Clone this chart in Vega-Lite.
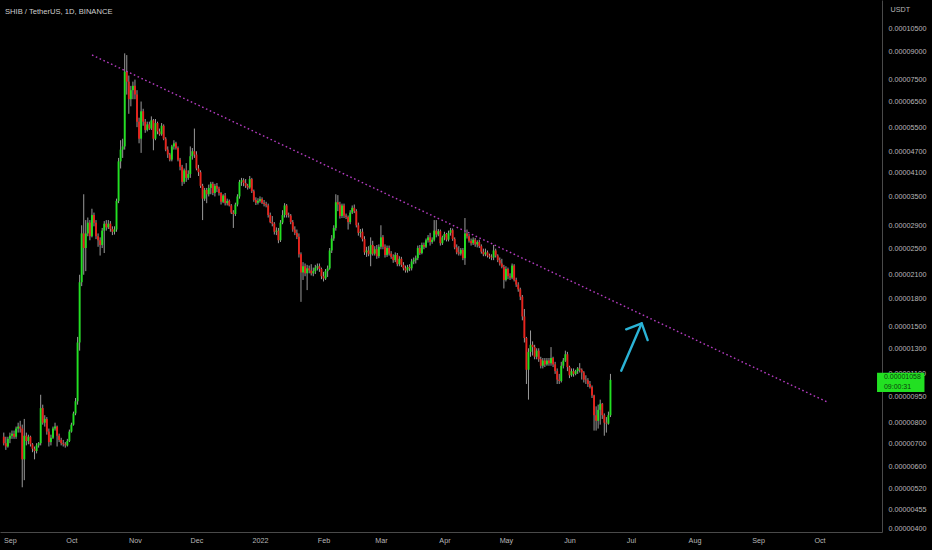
{
  "$schema": "https://vega.github.io/schema/vega-lite/v6.json",
  "description": "SHIB / TetherUS daily candles on a log price scale, with a descending dotted trendline and an up arrow.",
  "width": 882,
  "height": 532,
  "autosize": "none",
  "padding": {"left": 0, "top": 0, "right": 50, "bottom": 18},
  "background": "#000000",
  "title": {
    "text": "SHIB / TetherUS, 1D, BINANCE",
    "anchor": "start",
    "frame": "group",
    "offset": -24,
    "dx": 5,
    "baseline": "bottom",
    "font": "Liberation Sans",
    "fontSize": 7.6,
    "fontWeight": "normal",
    "color": "#cfcfcf"
  },
  "datasets": {
    "candles": [
      {"t":"2021-08-29","o":7.3,"h":7.5,"l":6.9,"c":7.0},
      {"t":"2021-08-30","o":7.0,"h":7.3,"l":6.7,"c":6.85},
      {"t":"2021-08-31","o":6.85,"h":7.3,"l":6.8,"c":7.2},
      {"t":"2021-09-01","o":7.2,"h":7.5,"l":7.0,"c":7.35},
      {"t":"2021-09-02","o":7.35,"h":7.6,"l":7.2,"c":7.45},
      {"t":"2021-09-03","o":7.45,"h":7.6,"l":7.2,"c":7.3},
      {"t":"2021-09-04","o":7.3,"h":7.8,"l":7.2,"c":7.7},
      {"t":"2021-09-05","o":7.7,"h":8.0,"l":7.5,"c":7.8},
      {"t":"2021-09-06","o":7.8,"h":8.1,"l":7.5,"c":7.7},
      {"t":"2021-09-07","o":7.7,"h":7.9,"l":5.25,"c":6.3},
      {"t":"2021-09-08","o":6.3,"h":8.2,"l":5.5,"c":7.35},
      {"t":"2021-09-09","o":7.35,"h":7.5,"l":6.9,"c":7.1},
      {"t":"2021-09-10","o":7.1,"h":7.4,"l":6.95,"c":7.3},
      {"t":"2021-09-11","o":7.3,"h":7.35,"l":6.85,"c":6.95},
      {"t":"2021-09-12","o":6.95,"h":7.0,"l":6.6,"c":6.75},
      {"t":"2021-09-13","o":6.75,"h":6.85,"l":6.3,"c":6.65},
      {"t":"2021-09-14","o":6.65,"h":7.0,"l":6.55,"c":6.9},
      {"t":"2021-09-15","o":6.9,"h":7.05,"l":6.8,"c":7.0},
      {"t":"2021-09-16","o":7.0,"h":9.6,"l":6.9,"c":8.8},
      {"t":"2021-09-17","o":8.8,"h":9.0,"l":7.9,"c":8.0},
      {"t":"2021-09-18","o":8.0,"h":8.4,"l":7.8,"c":8.2},
      {"t":"2021-09-19","o":8.2,"h":8.3,"l":7.4,"c":7.55},
      {"t":"2021-09-20","o":7.55,"h":7.7,"l":6.85,"c":7.05},
      {"t":"2021-09-21","o":7.05,"h":7.4,"l":6.9,"c":7.25},
      {"t":"2021-09-22","o":7.25,"h":7.8,"l":7.2,"c":7.7},
      {"t":"2021-09-23","o":7.7,"h":8.0,"l":7.6,"c":7.8},
      {"t":"2021-09-24","o":7.8,"h":7.85,"l":6.85,"c":7.35},
      {"t":"2021-09-25","o":7.35,"h":7.45,"l":7.05,"c":7.15},
      {"t":"2021-09-26","o":7.15,"h":7.25,"l":6.9,"c":7.0},
      {"t":"2021-09-27","o":7.0,"h":7.15,"l":6.85,"c":6.95},
      {"t":"2021-09-28","o":6.95,"h":7.05,"l":6.8,"c":6.9},
      {"t":"2021-09-29","o":6.9,"h":7.2,"l":6.85,"c":7.1},
      {"t":"2021-09-30","o":7.1,"h":7.65,"l":7.05,"c":7.55},
      {"t":"2021-10-01","o":7.55,"h":8.0,"l":7.5,"c":7.9},
      {"t":"2021-10-02","o":7.9,"h":8.6,"l":7.85,"c":8.5},
      {"t":"2021-10-03","o":8.5,"h":9.4,"l":8.4,"c":9.2},
      {"t":"2021-10-04","o":9.2,"h":14.0,"l":9.0,"c":13.5},
      {"t":"2021-10-05","o":13.5,"h":21.0,"l":12.8,"c":20.0},
      {"t":"2021-10-06","o":20.0,"h":29.0,"l":19.5,"c":27.5},
      {"t":"2021-10-07","o":27.5,"h":35.5,"l":21.0,"c":25.0},
      {"t":"2021-10-08","o":25.0,"h":30.0,"l":21.5,"c":27.5},
      {"t":"2021-10-09","o":27.5,"h":30.5,"l":27.0,"c":29.5},
      {"t":"2021-10-10","o":29.5,"h":30.0,"l":26.3,"c":27.0},
      {"t":"2021-10-11","o":27.0,"h":32.3,"l":26.8,"c":31.0},
      {"t":"2021-10-12","o":31.0,"h":31.5,"l":28.8,"c":29.5},
      {"t":"2021-10-13","o":29.5,"h":30.0,"l":26.5,"c":27.0},
      {"t":"2021-10-14","o":27.0,"h":27.5,"l":25.2,"c":26.3},
      {"t":"2021-10-15","o":26.3,"h":26.8,"l":23.8,"c":25.5},
      {"t":"2021-10-16","o":25.5,"h":28.5,"l":25.0,"c":28.0},
      {"t":"2021-10-17","o":28.0,"h":29.8,"l":24.2,"c":29.3},
      {"t":"2021-10-18","o":29.3,"h":30.0,"l":28.0,"c":28.6},
      {"t":"2021-10-19","o":28.6,"h":30.0,"l":28.3,"c":29.3},
      {"t":"2021-10-20","o":29.3,"h":29.8,"l":27.8,"c":28.3},
      {"t":"2021-10-21","o":28.3,"h":28.8,"l":27.2,"c":27.8},
      {"t":"2021-10-22","o":27.8,"h":28.8,"l":27.3,"c":28.2},
      {"t":"2021-10-23","o":28.2,"h":34.5,"l":27.8,"c":34.0},
      {"t":"2021-10-24","o":34.0,"h":45.0,"l":33.5,"c":44.0},
      {"t":"2021-10-25","o":44.0,"h":50.5,"l":42.0,"c":47.5},
      {"t":"2021-10-26","o":47.5,"h":51.0,"l":45.0,"c":48.5},
      {"t":"2021-10-27","o":48.5,"h":89.0,"l":47.5,"c":79.0},
      {"t":"2021-10-28","o":79.0,"h":88.0,"l":68.0,"c":74.0},
      {"t":"2021-10-29","o":74.0,"h":77.0,"l":60.0,"c":66.0},
      {"t":"2021-10-30","o":66.0,"h":72.0,"l":63.0,"c":70.0},
      {"t":"2021-10-31","o":70.0,"h":74.0,"l":66.0,"c":72.0},
      {"t":"2021-11-01","o":72,"h":75,"l":66,"c":68},
      {"t":"2021-11-02","o":68,"h":70,"l":55,"c":57},
      {"t":"2021-11-03","o":57,"h":58.5,"l":49.5,"c":51},
      {"t":"2021-11-04","o":51,"h":65,"l":46.5,"c":61},
      {"t":"2021-11-05","o":61,"h":62,"l":55.5,"c":57},
      {"t":"2021-11-06","o":57,"h":58,"l":53,"c":54},
      {"t":"2021-11-07","o":54,"h":57,"l":53.5,"c":56},
      {"t":"2021-11-08","o":56,"h":57,"l":54,"c":54.5},
      {"t":"2021-11-09","o":54.5,"h":59,"l":54,"c":57.5},
      {"t":"2021-11-10","o":57.5,"h":58,"l":47.3,"c":51},
      {"t":"2021-11-11","o":51,"h":58,"l":50.5,"c":56.5},
      {"t":"2021-11-12","o":56.5,"h":57,"l":52.5,"c":53.5},
      {"t":"2021-11-13","o":53.5,"h":54.5,"l":52,"c":52.5},
      {"t":"2021-11-14","o":52.5,"h":56.5,"l":52,"c":55.5},
      {"t":"2021-11-15","o":55.5,"h":56,"l":50.5,"c":51},
      {"t":"2021-11-16","o":51,"h":51.5,"l":47,"c":47.5},
      {"t":"2021-11-17","o":47.5,"h":48.5,"l":45,"c":46},
      {"t":"2021-11-18","o":46,"h":46.5,"l":44,"c":44.5},
      {"t":"2021-11-19","o":44.5,"h":49,"l":44,"c":48.5},
      {"t":"2021-11-20","o":48.5,"h":50.5,"l":47.5,"c":49.5},
      {"t":"2021-11-21","o":49.5,"h":50,"l":47.5,"c":48},
      {"t":"2021-11-22","o":48,"h":48.5,"l":44,"c":44.5},
      {"t":"2021-11-23","o":44.5,"h":45,"l":41.5,"c":42.5},
      {"t":"2021-11-24","o":42.5,"h":43,"l":37.5,"c":38.5},
      {"t":"2021-11-25","o":38.5,"h":42,"l":38,"c":41.5},
      {"t":"2021-11-26","o":41.5,"h":43.5,"l":38.5,"c":39.5},
      {"t":"2021-11-27","o":39.5,"h":41.5,"l":39,"c":40.5},
      {"t":"2021-11-28","o":40.5,"h":48.5,"l":39.5,"c":45.5},
      {"t":"2021-11-29","o":45.5,"h":48,"l":44.5,"c":47},
      {"t":"2021-11-30","o":47,"h":54.5,"l":45,"c":46},
      {"t":"2021-12-01","o":46,"h":47,"l":41.5,"c":42},
      {"t":"2021-12-02","o":42,"h":43,"l":40,"c":41},
      {"t":"2021-12-03","o":41,"h":41.5,"l":37,"c":37.5},
      {"t":"2021-12-04","o":37.5,"h":38,"l":30,"c":34.5},
      {"t":"2021-12-05","o":34.5,"h":37,"l":34,"c":36.5},
      {"t":"2021-12-06","o":36.5,"h":37,"l":33.5,"c":35.5},
      {"t":"2021-12-07","o":35.5,"h":37.8,"l":35,"c":37},
      {"t":"2021-12-08","o":37,"h":38.5,"l":35.5,"c":38},
      {"t":"2021-12-09","o":38,"h":38.5,"l":35.3,"c":35.8},
      {"t":"2021-12-10","o":35.8,"h":38,"l":35,"c":37.5},
      {"t":"2021-12-11","o":37.5,"h":38.2,"l":36,"c":36.8},
      {"t":"2021-12-12","o":36.8,"h":37.3,"l":35.2,"c":35.8},
      {"t":"2021-12-13","o":35.8,"h":36,"l":33.2,"c":33.8},
      {"t":"2021-12-14","o":33.8,"h":35.5,"l":33.5,"c":35.2},
      {"t":"2021-12-15","o":35.2,"h":35.8,"l":33,"c":33.5},
      {"t":"2021-12-16","o":33.5,"h":34.5,"l":33,"c":34},
      {"t":"2021-12-17","o":34,"h":34.3,"l":32.8,"c":33},
      {"t":"2021-12-18","o":33,"h":33.3,"l":31.2,"c":31.5},
      {"t":"2021-12-19","o":31.5,"h":32,"l":28.5,"c":31.2},
      {"t":"2021-12-20","o":31.2,"h":33.6,"l":30.8,"c":33.2},
      {"t":"2021-12-21","o":33.2,"h":35.5,"l":32.8,"c":35},
      {"t":"2021-12-22","o":35,"h":39,"l":34.5,"c":38.5},
      {"t":"2021-12-23","o":38.5,"h":39.5,"l":37.5,"c":38.9},
      {"t":"2021-12-24","o":38.9,"h":39.4,"l":37.4,"c":38.2},
      {"t":"2021-12-25","o":38.2,"h":39.2,"l":37,"c":37.5},
      {"t":"2021-12-26","o":37.5,"h":38,"l":36.6,"c":37.1},
      {"t":"2021-12-27","o":37.1,"h":40,"l":36.8,"c":39.2},
      {"t":"2021-12-28","o":39.2,"h":39.5,"l":35.8,"c":36.2},
      {"t":"2021-12-29","o":36.2,"h":36.6,"l":33.8,"c":34.2},
      {"t":"2021-12-30","o":34.2,"h":34.8,"l":33.1,"c":33.6},
      {"t":"2021-12-31","o":33.6,"h":34.6,"l":33.2,"c":34.0},
      {"t":"2022-01-01","o":34,"h":35,"l":33.6,"c":34.4},
      {"t":"2022-01-02","o":34.4,"h":34.8,"l":33.3,"c":33.6},
      {"t":"2022-01-03","o":33.6,"h":34.2,"l":32.8,"c":33.3},
      {"t":"2022-01-04","o":33.3,"h":33.8,"l":32.6,"c":33.0},
      {"t":"2022-01-05","o":33,"h":33.4,"l":30.5,"c":31},
      {"t":"2022-01-06","o":31,"h":31.5,"l":29.4,"c":29.6},
      {"t":"2022-01-07","o":29.6,"h":30.8,"l":28.8,"c":29.3},
      {"t":"2022-01-08","o":29.3,"h":29.6,"l":27.3,"c":27.8},
      {"t":"2022-01-09","o":27.8,"h":28.6,"l":27.2,"c":28.0},
      {"t":"2022-01-10","o":28,"h":28.5,"l":25.8,"c":26.3},
      {"t":"2022-01-11","o":26.3,"h":30,"l":26,"c":29.5},
      {"t":"2022-01-12","o":29.5,"h":32,"l":29.2,"c":31},
      {"t":"2022-01-13","o":31,"h":33.5,"l":30.5,"c":33},
      {"t":"2022-01-14","o":33,"h":33.3,"l":30.5,"c":31},
      {"t":"2022-01-15","o":31,"h":31.5,"l":30.5,"c":30.9},
      {"t":"2022-01-16","o":30.9,"h":31.2,"l":29.2,"c":29.6},
      {"t":"2022-01-17","o":29.6,"h":30,"l":27.8,"c":28.2},
      {"t":"2022-01-18","o":28.2,"h":28.8,"l":27.2,"c":27.6},
      {"t":"2022-01-19","o":27.6,"h":28.2,"l":26.5,"c":26.9},
      {"t":"2022-01-20","o":26.9,"h":27.5,"l":23.5,"c":24},
      {"t":"2022-01-21","o":24,"h":24.3,"l":17.6,"c":21.3},
      {"t":"2022-01-22","o":21.3,"h":22.8,"l":20.3,"c":22.2},
      {"t":"2022-01-23","o":22.2,"h":22.6,"l":20.8,"c":21.2},
      {"t":"2022-01-24","o":21.2,"h":22.4,"l":19,"c":21.9},
      {"t":"2022-01-25","o":21.9,"h":22.3,"l":21.2,"c":21.6},
      {"t":"2022-01-26","o":21.6,"h":22.5,"l":20.9,"c":21.2},
      {"t":"2022-01-27","o":21.2,"h":22,"l":20.8,"c":21.5},
      {"t":"2022-01-28","o":21.5,"h":22.4,"l":21.1,"c":22},
      {"t":"2022-01-29","o":22,"h":22.6,"l":21.6,"c":22.2},
      {"t":"2022-01-30","o":22.2,"h":22.6,"l":21.4,"c":21.8},
      {"t":"2022-01-31","o":21.8,"h":22,"l":20.4,"c":20.8},
      {"t":"2022-02-01","o":20.8,"h":21.4,"l":20.1,"c":20.5},
      {"t":"2022-02-02","o":20.5,"h":21.8,"l":20.3,"c":21.5},
      {"t":"2022-02-03","o":21.5,"h":22.3,"l":20.7,"c":21.9},
      {"t":"2022-02-04","o":21.9,"h":25,"l":21.7,"c":24.6},
      {"t":"2022-02-05","o":24.6,"h":27.2,"l":24.2,"c":26.6},
      {"t":"2022-02-06","o":26.6,"h":29,"l":26.2,"c":28.5},
      {"t":"2022-02-07","o":28.5,"h":35.5,"l":28,"c":33.7},
      {"t":"2022-02-08","o":33.7,"h":35.3,"l":31.8,"c":33.2},
      {"t":"2022-02-09","o":33.2,"h":33.8,"l":30.3,"c":30.8},
      {"t":"2022-02-10","o":30.8,"h":33.4,"l":30.4,"c":33},
      {"t":"2022-02-11","o":33,"h":33.4,"l":30.4,"c":30.9},
      {"t":"2022-02-12","o":30.9,"h":31.3,"l":30.2,"c":30.6},
      {"t":"2022-02-13","o":30.6,"h":30.9,"l":28.2,"c":29.6},
      {"t":"2022-02-14","o":29.6,"h":32,"l":29.2,"c":31.5},
      {"t":"2022-02-15","o":31.5,"h":33,"l":31.2,"c":32.5},
      {"t":"2022-02-16","o":32.5,"h":33.2,"l":31.4,"c":31.8},
      {"t":"2022-02-17","o":31.8,"h":32.2,"l":28.6,"c":29},
      {"t":"2022-02-18","o":29,"h":29.5,"l":27.1,"c":27.6},
      {"t":"2022-02-19","o":27.6,"h":28.3,"l":26.8,"c":27.8},
      {"t":"2022-02-20","o":27.8,"h":28.4,"l":26.1,"c":26.5},
      {"t":"2022-02-21","o":26.5,"h":27,"l":23.9,"c":24.3},
      {"t":"2022-02-22","o":24.3,"h":25.2,"l":23.6,"c":24.6},
      {"t":"2022-02-23","o":24.6,"h":25.3,"l":23.7,"c":24},
      {"t":"2022-02-24","o":24,"h":26.8,"l":22.2,"c":25.5},
      {"t":"2022-02-25","o":25.5,"h":26.2,"l":23.8,"c":24.1},
      {"t":"2022-02-26","o":24.1,"h":25.3,"l":23.8,"c":24.8},
      {"t":"2022-02-27","o":24.8,"h":25.5,"l":23.3,"c":23.7},
      {"t":"2022-02-28","o":23.7,"h":25.6,"l":23.4,"c":25.2},
      {"t":"2022-03-01","o":25.2,"h":29,"l":24.8,"c":26.8},
      {"t":"2022-03-02","o":26.8,"h":27.2,"l":24.8,"c":25.2},
      {"t":"2022-03-03","o":25.2,"h":25.6,"l":23.5,"c":23.9},
      {"t":"2022-03-04","o":23.9,"h":25.4,"l":23.6,"c":25},
      {"t":"2022-03-05","o":25,"h":25.4,"l":23.8,"c":24.1},
      {"t":"2022-03-06","o":24.1,"h":24.5,"l":23.3,"c":23.6},
      {"t":"2022-03-07","o":23.6,"h":24,"l":22.7,"c":23.1},
      {"t":"2022-03-08","o":23.1,"h":24.3,"l":22.8,"c":23.9},
      {"t":"2022-03-09","o":23.9,"h":24.2,"l":22.2,"c":22.5},
      {"t":"2022-03-10","o":22.5,"h":23.7,"l":22.2,"c":23.3},
      {"t":"2022-03-11","o":23.3,"h":23.6,"l":22.1,"c":22.4},
      {"t":"2022-03-12","o":22.4,"h":22.8,"l":21.6,"c":21.9},
      {"t":"2022-03-13","o":21.9,"h":22.3,"l":21.3,"c":21.6},
      {"t":"2022-03-14","o":21.6,"h":22.4,"l":21.3,"c":22.1},
      {"t":"2022-03-15","o":22.1,"h":22.5,"l":21.5,"c":21.9},
      {"t":"2022-03-16","o":21.9,"h":23.3,"l":21.6,"c":22.9},
      {"t":"2022-03-17","o":22.9,"h":23.5,"l":22.5,"c":23.1},
      {"t":"2022-03-18","o":23.1,"h":23.8,"l":22.6,"c":23.4},
      {"t":"2022-03-19","o":23.4,"h":25.4,"l":23.1,"c":25},
      {"t":"2022-03-20","o":25,"h":25.5,"l":23.9,"c":24.2},
      {"t":"2022-03-21","o":24.2,"h":25.9,"l":24,"c":25.5},
      {"t":"2022-03-22","o":25.5,"h":25.9,"l":24.8,"c":25.2},
      {"t":"2022-03-23","o":25.2,"h":26.6,"l":25,"c":26.3},
      {"t":"2022-03-24","o":26.3,"h":27.2,"l":25.9,"c":26.8},
      {"t":"2022-03-25","o":26.8,"h":27.6,"l":25.4,"c":26},
      {"t":"2022-03-26","o":26,"h":26.8,"l":25.7,"c":26.4},
      {"t":"2022-03-27","o":26.4,"h":30,"l":26.1,"c":28},
      {"t":"2022-03-28","o":28,"h":30,"l":26.8,"c":27.3},
      {"t":"2022-03-29","o":27.3,"h":28.3,"l":27,"c":27.9},
      {"t":"2022-03-30","o":27.9,"h":28.2,"l":25.4,"c":25.8},
      {"t":"2022-03-31","o":25.8,"h":27.1,"l":25.5,"c":26.8},
      {"t":"2022-04-01","o":26.8,"h":27.8,"l":26.3,"c":27.4},
      {"t":"2022-04-02","o":27.4,"h":27.6,"l":26.1,"c":26.4},
      {"t":"2022-04-03","o":26.4,"h":28,"l":26.1,"c":27.6},
      {"t":"2022-04-04","o":27.6,"h":28.5,"l":27.1,"c":28.1},
      {"t":"2022-04-05","o":28.1,"h":28.4,"l":26.2,"c":26.5},
      {"t":"2022-04-06","o":26.5,"h":26.8,"l":24.8,"c":25.1},
      {"t":"2022-04-07","o":25.1,"h":25.6,"l":24,"c":24.3},
      {"t":"2022-04-08","o":24.3,"h":25.3,"l":23.8,"c":24.1},
      {"t":"2022-04-09","o":24.1,"h":25,"l":23.8,"c":24.7},
      {"t":"2022-04-10","o":24.7,"h":25,"l":23.1,"c":23.4},
      {"t":"2022-04-11","o":23.4,"h":30.4,"l":22.4,"c":27.5},
      {"t":"2022-04-12","o":27.5,"h":28.2,"l":26.6,"c":27},
      {"t":"2022-04-13","o":27,"h":27.4,"l":25.9,"c":26.2},
      {"t":"2022-04-14","o":26.2,"h":26.6,"l":25.4,"c":25.8},
      {"t":"2022-04-15","o":25.8,"h":26.8,"l":25.5,"c":26.4},
      {"t":"2022-04-16","o":26.4,"h":26.7,"l":25.2,"c":25.6},
      {"t":"2022-04-17","o":25.6,"h":26.3,"l":25.1,"c":26},
      {"t":"2022-04-18","o":26,"h":26.4,"l":25,"c":25.3},
      {"t":"2022-04-19","o":25.3,"h":25.6,"l":24.1,"c":24.4},
      {"t":"2022-04-20","o":24.4,"h":24.9,"l":23.7,"c":24},
      {"t":"2022-04-21","o":24,"h":24.9,"l":23.7,"c":24.3},
      {"t":"2022-04-22","o":24.3,"h":24.6,"l":23.5,"c":23.8},
      {"t":"2022-04-23","o":23.8,"h":24.1,"l":23.3,"c":23.6},
      {"t":"2022-04-24","o":23.6,"h":24,"l":23.1,"c":23.5},
      {"t":"2022-04-25","o":23.5,"h":25.5,"l":23.1,"c":24.6},
      {"t":"2022-04-26","o":24.6,"h":24.9,"l":23.5,"c":23.8},
      {"t":"2022-04-27","o":23.8,"h":24,"l":22.8,"c":23.1},
      {"t":"2022-04-28","o":23.1,"h":23.5,"l":22.3,"c":22.6},
      {"t":"2022-04-29","o":22.6,"h":23.3,"l":21.9,"c":22.1},
      {"t":"2022-04-30","o":22.1,"h":22.4,"l":19.2,"c":20.3},
      {"t":"2022-05-01","o":20.3,"h":22.2,"l":20.1,"c":21.8},
      {"t":"2022-05-02","o":21.8,"h":22,"l":20.4,"c":20.8},
      {"t":"2022-05-03","o":20.8,"h":21.2,"l":20.3,"c":20.6},
      {"t":"2022-05-04","o":20.6,"h":22.6,"l":20.4,"c":22.3},
      {"t":"2022-05-05","o":22.3,"h":22.5,"l":20.1,"c":20.3},
      {"t":"2022-05-06","o":20.3,"h":20.6,"l":19.4,"c":19.7},
      {"t":"2022-05-07","o":19.7,"h":20,"l":18.8,"c":19.1},
      {"t":"2022-05-08","o":19.1,"h":19.3,"l":17.8,"c":18.2},
      {"t":"2022-05-09","o":18.2,"h":18.4,"l":15.6,"c":16},
      {"t":"2022-05-10","o":16,"h":16.8,"l":13.5,"c":13.9},
      {"t":"2022-05-11","o":13.9,"h":14,"l":10.3,"c":11.3},
      {"t":"2022-05-12","o":11.3,"h":13,"l":9.3,"c":12.7},
      {"t":"2022-05-13","o":12.7,"h":14.6,"l":12.3,"c":13.3},
      {"t":"2022-05-14","o":13.3,"h":13.6,"l":12.4,"c":13.1},
      {"t":"2022-05-15","o":13.1,"h":13.3,"l":12.1,"c":12.3},
      {"t":"2022-05-16","o":12.3,"h":13,"l":12.1,"c":12.8},
      {"t":"2022-05-17","o":12.8,"h":13,"l":11.9,"c":12.1},
      {"t":"2022-05-18","o":12.1,"h":12.3,"l":11.4,"c":11.6},
      {"t":"2022-05-19","o":11.6,"h":12.2,"l":11.4,"c":12},
      {"t":"2022-05-20","o":12,"h":12.2,"l":11.5,"c":11.7},
      {"t":"2022-05-21","o":11.7,"h":12.2,"l":11.6,"c":12},
      {"t":"2022-05-22","o":12,"h":12.2,"l":11.6,"c":11.8},
      {"t":"2022-05-23","o":11.8,"h":13.1,"l":11.6,"c":12.2},
      {"t":"2022-05-24","o":12.2,"h":12.3,"l":11.5,"c":11.7},
      {"t":"2022-05-25","o":11.7,"h":11.9,"l":11,"c":11.2},
      {"t":"2022-05-26","o":11.2,"h":11.4,"l":10.3,"c":10.6},
      {"t":"2022-05-27","o":10.6,"h":11,"l":10.3,"c":10.5},
      {"t":"2022-05-28","o":10.5,"h":11.9,"l":10.4,"c":11.6},
      {"t":"2022-05-29","o":11.6,"h":12.2,"l":11.4,"c":12},
      {"t":"2022-05-30","o":12,"h":12.8,"l":11.9,"c":12.5},
      {"t":"2022-05-31","o":12.5,"h":12.7,"l":11.2,"c":11.5},
      {"t":"2022-06-01","o":11.5,"h":11.6,"l":10.7,"c":10.9},
      {"t":"2022-06-02","o":10.9,"h":11.4,"l":10.8,"c":11.2},
      {"t":"2022-06-03","o":11.2,"h":11.4,"l":10.8,"c":11},
      {"t":"2022-06-04","o":11,"h":11.3,"l":10.9,"c":11.2},
      {"t":"2022-06-05","o":11.2,"h":11.5,"l":11,"c":11.4},
      {"t":"2022-06-06","o":11.4,"h":11.8,"l":11.1,"c":11.3},
      {"t":"2022-06-07","o":11.3,"h":11.4,"l":10.6,"c":11.1},
      {"t":"2022-06-08","o":11.1,"h":11.2,"l":10.4,"c":10.6},
      {"t":"2022-06-09","o":10.6,"h":10.9,"l":10.3,"c":10.55},
      {"t":"2022-06-10","o":10.55,"h":10.7,"l":10.1,"c":10.3},
      {"t":"2022-06-11","o":10.3,"h":10.5,"l":10,"c":10.1},
      {"t":"2022-06-12","o":10.1,"h":10.2,"l":9.4,"c":9.55},
      {"t":"2022-06-13","o":9.55,"h":9.6,"l":7.6,"c":8.4},
      {"t":"2022-06-14","o":8.4,"h":8.9,"l":7.6,"c":8.1},
      {"t":"2022-06-15","o":8.1,"h":9,"l":7.7,"c":8.7},
      {"t":"2022-06-16","o":8.7,"h":9.3,"l":7.9,"c":9.05},
      {"t":"2022-06-17","o":9.05,"h":9.1,"l":8.2,"c":8.4},
      {"t":"2022-06-18","o":8.4,"h":8.5,"l":7.35,"c":8},
      {"t":"2022-06-19","o":8,"h":8.3,"l":7.5,"c":7.95},
      {"t":"2022-06-20","o":7.95,"h":8.6,"l":7.9,"c":8.4},
      {"t":"2022-06-21","o":8.4,"h":11.0,"l":8.3,"c":10.58}
    ],
    "trend": [
      {"t":"2021-10-11T01:00:00Z","p":88.05},
      {"t":"2022-10-05T13:26:00Z","p":9.11}
    ],
    "arrow": [
      {"s":"shaft","k":1,"t":"2022-06-26T06:14:00Z","p":11.23},
      {"s":"shaft","k":2,"t":"2022-07-06T06:00:00Z","p":15.3},
      {"s":"head","k":1,"t":"2022-06-28T16:05:00Z","p":14.71},
      {"s":"head","k":2,"t":"2022-07-06T06:00:00Z","p":15.3},
      {"s":"head","k":3,"t":"2022-07-09T03:22:00Z","p":13.71}
    ],
    "tag": [
      {"t":"2022-10-29T01:30:00Z","t2":"2022-11-21T05:00:00Z","p":11.09,"p2":9.77}
    ],
    "tagtext": [
      {"t":"2022-11-01T10:00:00Z","p":10.75,"label":"0.00001058"},
      {"t":"2022-11-01T10:00:00Z","p":10.12,"label":"09:00:31"}
    ]
  },
  "encoding": {
    "x": {
      "field": "t",
      "type": "temporal",
      "scale": {"type": "utc", "domain": [1630246003200, 1667005784000]},
      "axis": {
        "orient": "bottom",
        "title": null,
        "zindex": 0,
        "values": [
          {"year": 2021, "month": 9, "date": 1, "utc": true},
          {"year": 2021, "month": 10, "date": 1, "utc": true},
          {"year": 2021, "month": 11, "date": 1, "utc": true},
          {"year": 2021, "month": 12, "date": 1, "utc": true},
          {"year": 2022, "month": 1, "date": 1, "utc": true},
          {"year": 2022, "month": 2, "date": 1, "utc": true},
          {"year": 2022, "month": 3, "date": 1, "utc": true},
          {"year": 2022, "month": 4, "date": 1, "utc": true},
          {"year": 2022, "month": 5, "date": 1, "utc": true},
          {"year": 2022, "month": 6, "date": 1, "utc": true},
          {"year": 2022, "month": 7, "date": 1, "utc": true},
          {"year": 2022, "month": 8, "date": 1, "utc": true},
          {"year": 2022, "month": 9, "date": 1, "utc": true},
          {"year": 2022, "month": 10, "date": 1, "utc": true}
        ],
        "labelExpr": "utcmonth(datum.value) == 0 ? utcFormat(datum.value, '%Y') : utcFormat(datum.value, '%b')",
        "ticks": false,
        "labelPadding": 4,
        "labelFlush": false,
        "labelBound": false,
        "labelOverlap": false,
        "grid": false
      }
    },
    "y": {
      "field": "p",
      "type": "quantitative",
      "scale": {"type": "log", "domain": [3.922, 126.05], "nice": false},
      "axis": {
        "orient": "right",
        "title": "USDT",
        "zindex": 0,
        "titleAngle": 0,
        "titleX": 8,
        "titleY": 9,
        "titleAlign": "left",
        "titleBaseline": "middle",
        "values": [4, 4.55, 5.2, 6, 7, 8, 9.5, 11, 13, 15, 18, 21, 25, 29, 35, 41, 47, 55, 65, 75, 90, 105],
        "labelExpr": "format(datum.value / 1000000, '.8f')",
        "ticks": false,
        "labelPadding": 6,
        "labelAlign": "left",
        "labelBaseline": "middle",
        "labelOverlap": false,
        "labelBound": false,
        "labelFlush": false,
        "grid": false
      }
    }
  },
  "layer": [
    {
      "data": {"name": "candles"},
      "mark": {"type": "rule", "color": "#9a9a9a", "strokeWidth": 1, "clip": true},
      "encoding": {
        "y": {"field": "l", "type": "quantitative", "scale": {"type": "log", "domain": [3.922, 126.05], "nice": false}, "title": "USDT"},
        "y2": {"field": "h"}
      }
    },
    {
      "data": {"name": "candles"},
      "mark": {"type": "bar", "size": 1.9, "clip": true},
      "encoding": {
        "y": {"field": "o", "type": "quantitative", "scale": {"type": "log", "domain": [3.922, 126.05], "nice": false}, "title": "USDT"},
        "y2": {"field": "c"},
        "color": {
          "condition": {"test": "datum.c >= datum.o", "value": "#22e022"},
          "value": "#e8231c"
        }
      }
    },
    {
      "data": {"name": "trend"},
      "mark": {"type": "line", "color": "#b43cc0", "strokeWidth": 1.4, "strokeDash": [1.6, 2.6]}
    },
    {
      "data": {"name": "arrow"},
      "mark": {"type": "line", "color": "#2bb3d6", "strokeWidth": 2.4, "strokeCap": "round", "strokeJoin": "round"},
      "encoding": {
        "detail": {"field": "s"},
        "order": {"field": "k"}
      }
    },
    {
      "data": {"name": "tag"},
      "mark": {"type": "rect", "color": "#22e022", "opacity": 1},
      "encoding": {
        "x2": {"field": "t2"},
        "y2": {"field": "p2"}
      }
    },
    {
      "data": {"name": "tagtext"},
      "mark": {"type": "text", "align": "left", "baseline": "middle", "color": "#0c3d0c", "font": "Liberation Sans", "fontSize": 7},
      "encoding": {
        "text": {"field": "label"}
      }
    }
  ],
  "config": {
    "view": {"stroke": null},
    "axis": {
      "domainColor": "#4a4a4a",
      "domainWidth": 1,
      "labelColor": "#b8b8b8",
      "labelFont": "Liberation Sans",
      "labelFontSize": 7.2,
      "titleColor": "#b8b8b8",
      "titleFont": "Liberation Sans",
      "titleFontSize": 7.2,
      "titleFontWeight": "normal"
    }
  }
}
